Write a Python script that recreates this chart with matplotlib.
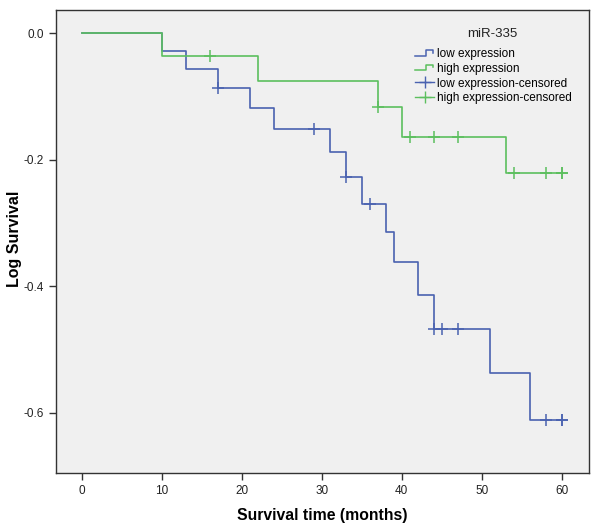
import numpy as np
import matplotlib
matplotlib.use("Agg")
import matplotlib.pyplot as plt
from matplotlib.lines import Line2D
from matplotlib.legend_handler import HandlerBase

plt.rcParams["font.family"] = ["Liberation Sans", "DejaVu Sans"]

# Step curves (time in months, log survival)
low_times = [0, 10, 13, 17, 21, 24, 31, 33, 35, 38, 39, 42, 44, 51, 56]
low_vals = [0, -0.028, -0.057, -0.087, -0.118, -0.151, -0.188, -0.227,
            -0.269, -0.314, -0.362, -0.413, -0.468, -0.537, -0.612]
low_censored = [17, 29, 33, 36, 44, 45, 47, 58, 60, 60]

high_times = [0, 10, 22, 37, 40, 53]
high_vals = [0, -0.035, -0.075, -0.117, -0.163, -0.220]
high_censored = [16, 37, 41, 44, 47, 54, 58, 60, 60]

end_time = 60
blue = "#4a62b0"
green = "#5cbf5e"


def step_value(times, vals, t):
    idx = np.searchsorted(times, t, side="right") - 1
    return vals[idx]


class StepHandler(HandlerBase):
    # little step-shaped icon like the SPSS legend
    def create_artists(self, legend, orig_handle, xdescent, ydescent,
                       width, height, fontsize, trans):
        x = np.array([0, 0.55, 0.55, 0.95, 0.95]) * width - xdescent
        y = np.array([0.2, 0.2, 0.85, 0.85, 0.55]) * height - ydescent
        ln = Line2D(x, y, color=orig_handle.get_color(), lw=1.1, transform=trans)
        return [ln]


fig = plt.figure(figsize=(6, 5.29), dpi=100)
ax = fig.add_axes([0.0933, 0.106, 0.888, 0.875])
ax.set_facecolor("#f0f0f0")

for times, vals, cens, col in [(low_times, low_vals, low_censored, blue),
                               (high_times, high_vals, high_censored, green)]:
    tx = list(times) + [end_time]
    vy = list(vals) + [vals[-1]]
    ax.step(tx, vy, where="post", color=col, lw=1.2)
    cy = [step_value(times, vals, t) for t in cens]
    ax.plot(cens, cy, "+", color=col, ms=8, mew=1.1, ls="none")

ax.set_xlim(-3.25, 63.4)
ax.set_ylim(-0.695, 0.037)
ax.set_xticks([0, 10, 20, 30, 40, 50, 60])
ax.set_yticks([0.0, -0.2, -0.4, -0.6])
ax.set_yticklabels(["0.0", "-0.2", "-0.4", "-0.6"])

for s in ax.spines.values():
    s.set_color("#333333")
    s.set_linewidth(1.0)
ax.tick_params(direction="out", length=5, width=1, color="#333333",
               labelsize=8.5, labelcolor="#222222")

ax.set_xlabel("Survival time (months)", fontsize=11.3, fontweight="bold", labelpad=8)
ax.set_ylabel("Log Survival", fontsize=11.5, fontweight="bold")
ax.yaxis.set_label_coords(-0.063, 0.505)

h_low = Line2D([], [], color=blue)
h_high = Line2D([], [], color=green)
h_lowc = Line2D([], [], color=blue, marker="+", ms=8, lw=1)
h_highc = Line2D([], [], color=green, marker="+", ms=8, lw=1)
leg = ax.legend([h_low, h_high, h_lowc, h_highc],
                ["low expression", "high expression",
                 "low expression-censored", "high expression-censored"],
                handler_map={h_low: StepHandler(), h_high: StepHandler()},
                loc="upper left", bbox_to_anchor=(0.659, 0.935), frameon=False,
                fontsize=8.5, handlelength=1.6,
                handletextpad=0.2, labelspacing=0.22, borderpad=0.2)
ax.text(0.818, 0.948, "miR-335", transform=ax.transAxes, ha="center",
        va="center", fontsize=9.5, color="#222222")

fig.savefig("out.png", dpi=100)
